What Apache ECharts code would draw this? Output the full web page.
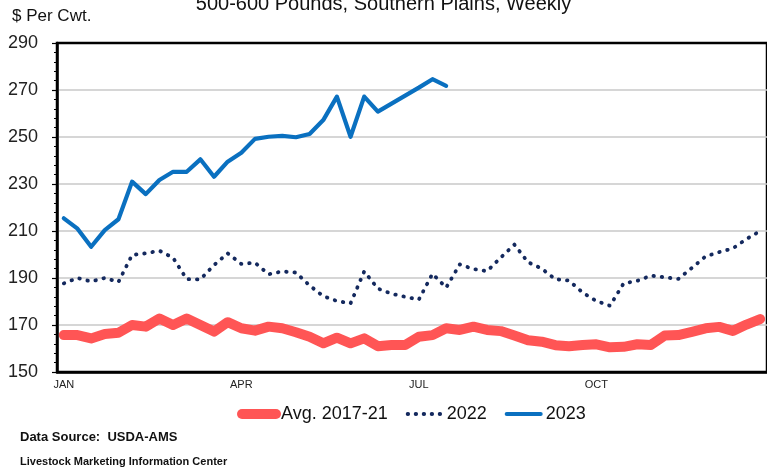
<!DOCTYPE html>
<html>
<head>
<meta charset="utf-8">
<title>Steer prices 500-600 lb, Southern Plains</title>
<script src="https://cdn.jsdelivr.net/npm/echarts@6/dist/echarts.min.js"></script>
<style>
    html, body { margin: 0; padding: 0; background: #fff; }
    #chart { width: 767px; height: 467px; }
</style>
</head>
<body>
<div id="chart"></div>
<script>
// Weekly prices, $ per cwt
var avg1721 = [165.7, 165.7, 164.3, 166.2, 166.7, 170, 169.3, 172.8, 170, 172.8, 170, 167.2, 171.2,
    168.6, 167.6, 169.3, 168.6, 166.9, 165, 162.2, 164.6, 162.2, 164.3, 161, 161.5, 161.5,
    165, 165.7, 168.6, 167.9, 169.3, 167.9, 167.4, 165.5, 163.5, 162.9, 161.4, 161, 161.5,
    161.8, 160.5, 160.7, 161.8, 161.5, 165.5, 165.7, 167.1, 168.6, 169.2, 167.5, 170.2, 172.5];
var y2022 = [187.7, 190, 188.5, 190, 188.3, 199.8, 200.5, 201.6, 198.6, 189.5, 189.4, 195.5, 200.5,
    196, 196.5, 191.6, 192.8, 192.3, 186.8, 182.3, 180.2, 179.2, 192.8, 185.5, 183.3, 182,
    180.8, 191.8, 185.9, 195.8, 193.8, 192.9, 198.7, 204.2, 196.7, 194, 189.5, 188.9, 183.8,
    180.2, 178.2, 187.7, 188.8, 191, 190.3, 189.6, 194.3, 199.2, 201, 202.6, 206.6, 210];
var y2023 = [215.4, 211, 203.3, 210.4, 215, 231, 225.7, 231.7, 235.2, 235.2, 240.5, 233.1, 239.5,
    243.3, 249.2, 250.1, 250.5, 249.9, 251.3, 257.2, 267.2, 250.1, 267.2, 260.8, 264.2, 267.6,
    271, 274.6, 271.8];

// x axis: 52 weeks, month names only at the quarter starts
var monthTicks = ['JAN', 'APR', 'JUL', 'OCT'];
var monthTickWeek = [0, 13, 26, 39];
var weeks = [];
for (var w = 1; w <= 52; w++) weeks.push(w);

var FONT = "'Liberation Sans', Arial, sans-serif";
var RED = '#ff5555', NAVY = '#14295e', BLUE = '#0a70c0';

function txt(size, bold) {
    return { fontFamily: FONT, fontSize: size, fontWeight: bold ? 'bold' : 'normal', color: '#111' };
}

var chart = echarts.init(document.getElementById('chart'), null, { renderer: 'canvas' });

chart.setOption({
    animation: false,
    backgroundColor: '#fff',
    title: [
        // main title is cut off at the top edge in the reference
        { text: '500-600 Pounds, Southern Plains, Weekly', left: 'center', top: -6, padding: 0, textStyle: txt(20) },
        { text: '$ Per Cwt.', left: 12, top: 8, padding: 0, textStyle: txt(17) },
        { text: 'Data Source:  USDA-AMS', left: 20, top: 431, padding: 0, textStyle: txt(13, true) },
        { text: 'Livestock Marketing Information Center', left: 20, top: 456, padding: 0, textStyle: txt(11, true) }
    ],
    legend: {
        left: 237, top: 405, padding: 0,
        itemWidth: 34, itemHeight: 14, itemGap: 18,
        textStyle: { fontFamily: FONT, fontSize: 18, color: '#111' },
        data: [
            { name: 'Avg. 2017-21', itemStyle: { opacity: 0 }, lineStyle: { width: 10, cap: 'round' } },
            { name: '2022', itemStyle: { opacity: 0 }, lineStyle: { width: 3.8, type: [0.5, 7.5], cap: 'round' } },
            { name: '2023', itemStyle: { opacity: 0 }, lineStyle: { width: 4 } }
        ]
    },
    // plot runs past the right edge of the picture, as in the reference
    grid: { left: 57, top: 43, width: 716, height: 329, show: true, borderColor: '#000', borderWidth: 2.5 },
    xAxis: {
        type: 'category',
        data: weeks,
        boundaryGap: true,
        axisLine: { lineStyle: { color: '#000', width: 2.5 } },
        axisTick: { interval: 0, length: 5, lineStyle: { color: '#000', width: 1.2 } },
        axisLabel: {
            interval: 0, margin: 7,
            fontFamily: FONT, fontSize: 11, color: '#222',
            formatter: function(v, i) {
                var k = monthTickWeek.indexOf(i);
                return k >= 0 ? monthTicks[k] : '';
            }
        },
        splitLine: { show: false }
    },
    yAxis: {
        type: 'value',
        min: 150, max: 290, interval: 20,
        axisLine: { show: true, lineStyle: { color: '#000', width: 2.5 } },
        axisTick: { show: true, length: 5, lineStyle: { color: '#000', width: 1.2 } },
        minorTick: { show: true, splitNumber: 5, length: 3, lineStyle: { color: '#000', width: 1 } },
        axisLabel: { margin: 19, fontFamily: FONT, fontSize: 18, color: '#222' },
        // keep the gray grid lines off the black frame edges
        splitLine: { showMinLine: false, showMaxLine: false, lineStyle: { color: '#c8c8c8', width: 1.5 } }
    },
    series: [
        {
            name: 'Avg. 2017-21', type: 'line', data: avg1721,
            symbol: 'none', showSymbol: false,
            lineStyle: { color: RED, width: 10, cap: 'round', join: 'round' },
            itemStyle: { color: RED }
        },
        {
            name: '2022', type: 'line', data: y2022,
            symbol: 'none', showSymbol: false,
            lineStyle: { color: NAVY, width: 3.8, type: [0.5, 7.8], cap: 'round', join: 'round' },
            itemStyle: { color: NAVY }
        },
        {
            name: '2023', type: 'line', data: y2023,
            symbol: 'none', showSymbol: false,
            lineStyle: { color: BLUE, width: 4.2, cap: 'round', join: 'round' },
            itemStyle: { color: BLUE }
        }
    ]
});
</script>
</body>
</html>
